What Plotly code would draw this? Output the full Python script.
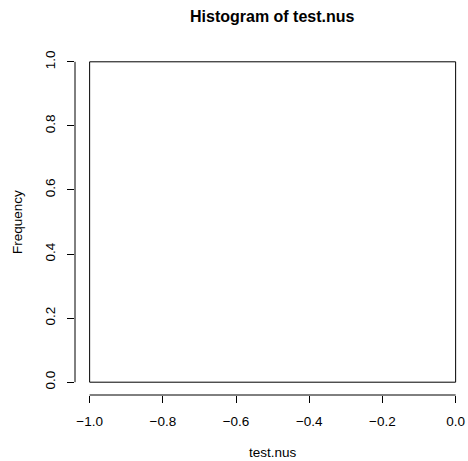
import plotly.graph_objects as go

# Data
breaks = [-1.0, 0.0]
counts = [1]
x_ticks = [-1.0, -0.8, -0.6, -0.4, -0.2, 0.0]
y_ticks = [0.0, 0.2, 0.4, 0.6, 0.8, 1.0]
x_tick_labels = ["\u22121.0", "\u22120.8", "\u22120.6", "\u22120.4", "\u22120.2", "0.0"]
y_tick_labels = ["0.0", "0.2", "0.4", "0.6", "0.8", "1.0"]
title_text = "Histogram of test.nus"
x_label = "test.nus"
y_label = "Frequency"

mids = [(a + b) / 2 for a, b in zip(breaks[:-1], breaks[1:])]
widths = [b - a for a, b in zip(breaks[:-1], breaks[1:])]

FONT = "Liberation Sans, Arial, Helvetica, sans-serif"
FS = 13.5
TFS = 16

W, H = 468, 461
ML, MR, MT, MB = 75, 0, 49, 66

xspan = breaks[-1] - breaks[0]
xmin = breaks[0] - 0.04 * xspan
px_per_unit = 366.0 / xspan
xmax = xmin + (W - ML - MR) / px_per_unit
ymax_data = max(max(counts), y_ticks[-1])
yspan = ymax_data - 0
ymin = 0 - 0.04 * yspan
ymax = ymax_data + 0.04 * yspan

fig = go.Figure(
    go.Bar(
        x=mids,
        y=counts,
        width=widths,
        marker=dict(color="white", line=dict(color="black", width=1)),
        showlegend=False,
    )
)

fig.update_layout(
    width=W,
    height=H,
    margin=dict(l=ML, r=MR, t=MT, b=MB, pad=0),
    paper_bgcolor="white",
    plot_bgcolor="white",
    font=dict(family=FONT, size=FS, color="black"),
    xaxis=dict(
        range=[xmin, xmax],
        tickvals=x_ticks,
        ticktext=x_tick_labels,
        ticks="outside",
        ticklen=7,
        tickwidth=1,
        tickcolor="black",
        showline=False,
        showgrid=False,
        zeroline=False,
        ticklabelstandoff=7,
        tickfont=dict(size=FS, family=FONT, color="black"),
        fixedrange=True,
    ),
    yaxis=dict(
        range=[ymin, ymax],
        tickvals=y_ticks,
        ticktext=y_tick_labels,
        tickangle=-90,
        ticks="outside",
        ticklen=7,
        tickwidth=1,
        tickcolor="black",
        showline=False,
        showgrid=False,
        zeroline=False,
        ticklabelstandoff=7,
        tickfont=dict(size=FS, family=FONT, color="black"),
        fixedrange=True,
    ),
    shapes=[
        dict(type="line", xref="x", yref="paper", x0=x_ticks[0], x1=x_ticks[-1], y0=0, y1=0,
             line=dict(color="black", width=1)),
        dict(type="line", xref="paper", yref="y", x0=0, x1=0, y0=y_ticks[0], y1=y_ticks[-1],
             line=dict(color="black", width=1)),
    ],
    annotations=[
        dict(text="<b>" + title_text + "</b>", xref="x", yref="paper",
             x=(xmin + breaks[-1] + 0.04 * xspan) / 2, y=1, yshift=49 - 16, showarrow=False,
             xanchor="center", yanchor="middle", font=dict(size=TFS, family=FONT, color="black")),
        dict(text=x_label, xref="x", yref="paper",
             x=(xmin + breaks[-1] + 0.04 * xspan) / 2, y=0, yshift=-MB, showarrow=False,
             xanchor="center", yanchor="bottom", borderpad=0,
             font=dict(size=FS, family=FONT, color="black")),
        dict(text=y_label, xref="paper", yref="y",
             x=0, y=(ymin + ymax) / 2, xshift=-(75 - 17), showarrow=False, textangle=-90,
             xanchor="center", yanchor="middle", font=dict(size=FS, family=FONT, color="black")),
    ],
)

fig.write_html("out.html")
